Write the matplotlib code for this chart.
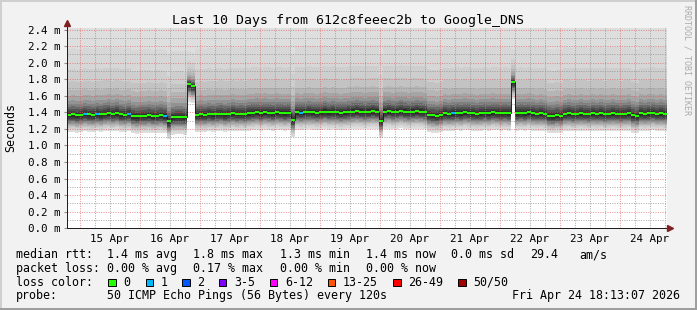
import numpy as np
import matplotlib
matplotlib.use("Agg")
import matplotlib.pyplot as plt
from matplotlib.patches import Rectangle
from matplotlib.lines import Line2D

W, H = 697, 310

# median rtt (ms), one value per 1.6 h, Apr 14 18:48 .. Apr 24 18:48
median = [
    1.37, 1.375, 1.365, 1.37,
    1.38, 1.375, 1.37, 1.38, 1.375,
    1.385, 1.39, 1.38, 1.39,
    1.375, 1.37, 1.38,
    1.355, 1.35, 1.36,
    1.36, 1.365, 1.355, 1.36, 1.365, 1.355,
    1.29,
    1.34, 1.345, 1.345, 1.34,
    1.74, 1.72,
    1.37, 1.375, 1.37, 1.38, 1.375,
    1.38, 1.385, 1.375, 1.38, 1.39, 1.38, 1.385, 1.38, 1.39,
    1.395, 1.40, 1.39, 1.40,
    1.395, 1.39, 1.40, 1.395, 1.39, 1.395,
    1.31,
    1.40, 1.395, 1.40, 1.405, 1.40, 1.395, 1.40, 1.41, 1.40, 1.405, 1.40, 1.395, 1.40, 1.405,
    1.41, 1.415, 1.41, 1.405, 1.41, 1.415, 1.41,
    1.30,
    1.41, 1.415, 1.405, 1.41, 1.42, 1.41, 1.405, 1.41, 1.415, 1.41, 1.405,
    1.37, 1.365, 1.36, 1.37,
    1.39, 1.385, 1.39, 1.395, 1.39, 1.40, 1.395, 1.39, 1.385, 1.39, 1.395, 1.39, 1.40, 1.395, 1.39, 1.395, 1.39,
    1.77,
    1.39, 1.395, 1.39, 1.40, 1.39, 1.385, 1.39, 1.385,
    1.36, 1.355, 1.365, 1.36,
    1.385, 1.39, 1.38, 1.385, 1.39, 1.385, 1.38, 1.39, 1.385, 1.39, 1.38, 1.385, 1.39, 1.385, 1.38, 1.385, 1.39,
    1.365, 1.36,
    1.39, 1.385, 1.39, 1.395, 1.385, 1.39, 1.385,
]
loss_one = [4, 7, 15, 24, 58, 96]   # columns with 1 of 50 pings lost
slow_cols = [30, 31, 111]           # columns where most pings were slow

# smoke: spread of the sorted pings around the median (ms), outer -> inner
smoke_low = [-0.21, -0.19, -0.17, -0.155, -0.14, -0.125,
             -0.11, -0.095, -0.08, -0.065, -0.05, -0.03]
smoke_high = [1.20, 0.80, 0.55, 0.40, 0.30, 0.23,
              0.17, 0.13, 0.10, 0.07, 0.045, 0.025]
smoke_gray = ['#dedede', '#d7d7d7', '#cecece', '#c3c3c3', '#b5b5b5', '#a5a5a5',
              '#939393', '#7f7f7f', '#696969', '#535353', '#3f3f3f', '#2c2c2c']

day_labels = ['15 Apr', '16 Apr', '17 Apr', '18 Apr', '19 Apr',
              '20 Apr', '21 Apr', '22 Apr', '23 Apr', '24 Apr']
yticks = [0.0, 0.2, 0.4, 0.6, 0.8, 1.0, 1.2, 1.4, 1.6, 1.8, 2.0, 2.2, 2.4]

loss_colors = ['#26ff00', '#00b8ff', '#0059ff', '#7e00ff',
               '#ff00ff', '#ff5500', '#ff0000', '#a10000']
loss_names = ['0', '1', '2', '3-5', '6-12', '13-25', '26-49', '50/50']

MONO = 'DejaVu Sans Mono'
t0, t1 = -5.2, 234.8          # hours relative to Apr 15 00:00
step = (t1 - t0) / len(median)
edges = t0 + step * np.arange(len(median) + 1)
med = np.array(median)
up_scale = np.array([0.5 if i in slow_cols else 1.0 for i in range(len(med))])

fig = plt.figure(figsize=(W / 100, H / 100), dpi=100, facecolor='#f2f2f2')
ax = fig.add_axes([67 / W, 1 - 228.3 / H, 600 / W, 200 / H])
ax.set_facecolor('white')
ax.set_xlim(t0, t1)
ax.set_ylim(0, 2.415)

# smoke (outermost band always reaches the top of the graph)
for k, (lo, hi, c) in enumerate(zip(smoke_low, smoke_high, smoke_gray)):
    y1 = med + lo
    y2 = med + hi * (1.0 if k == 0 else up_scale)
    ax.fill_between(edges, np.append(y1, y1[-1]), np.append(y2, y2[-1]),
                    step='post', color=c, lw=0, zorder=1)

# grid
grid_c = (0.56, 0.56, 0.56, 0.75)
mgrid_c = (0.87, 0.31, 0.31, 0.6)
for h in np.arange(0, t1, 6):
    major = h % 24 == 0
    ax.axvline(h, color=mgrid_c if major else grid_c, lw=0.72,
               dashes=(1, 1.4), zorder=2)
for k in range(1, 25):
    ax.axhline(k * 0.1, color=mgrid_c if k % 2 == 0 else grid_c, lw=0.72,
               dashes=(1, 1.4), zorder=2)

# median line
ax.stairs(med, edges, baseline=None, color='#202020', lw=0.7, zorder=3)
cols = ['#00b8ff' if i in loss_one else '#26ff00' for i in range(len(med))]
ax.hlines(med, edges[:-1], edges[1:], colors=cols, lw=1.5, zorder=4)

# axes
for s in ['top', 'right']:
    ax.spines[s].set_visible(False)
for s in ['left', 'bottom']:
    ax.spines[s].set_color('#1f1f1f')
    ax.spines[s].set_linewidth(0.72)
ax.set_xticks(np.arange(12, 24 * len(day_labels), 24), labels=day_labels)
ax.tick_params(axis='x', length=0, pad=4.2, labelsize=7.8)
ax.set_yticks(yticks, labels=['%.1f m' % v for v in yticks])
ax.tick_params(axis='y', length=2.2, pad=2.8, labelsize=7.8, color='#8f8f8f')
for lab in ax.get_xticklabels() + ax.get_yticklabels():
    lab.set_family(MONO)


def px(x, y):
    return x / W, 1 - y / H


# axis arrows
fig.add_artist(Line2D(*zip(px(67, 228.3), px(67, 22)), color='#1f1f1f', lw=0.72))
fig.add_artist(Line2D(*zip(px(67, 228.3), px(670, 228.3)), color='#1f1f1f', lw=0.72))
fig.add_artist(Line2D([67 / W], [1 - 22.5 / H], marker='^', ms=4.2,
                      color='#801f1f', lw=0))
fig.add_artist(Line2D([669.5 / W], [1 - 228.3 / H], marker='>', ms=4.2,
                      color='#801f1f', lw=0))

# frame shading
fig.add_artist(Rectangle(px(0, 2), 1, 2 / H, color='#cfcfcf', lw=0))
fig.add_artist(Rectangle(px(0, H), 2 / W, 1, color='#cfcfcf', lw=0))
fig.add_artist(Rectangle(px(0, H), 1, 2 / H, color='#9e9e9e', lw=0))
fig.add_artist(Rectangle(px(W - 2, H), 2 / W, 1, color='#9e9e9e', lw=0))

fig.text(*px(347.5, 24), 'Last 10 Days from 612c8feeec2b to Google_DNS',
         ha='center', va='baseline', fontsize=9.5, family=MONO)
fig.text(*px(11, 128), 'Seconds', rotation=90, ha='center', va='center',
         fontsize=8.4, family=MONO)
fig.text(*px(687.5, 5), 'RRDTOOL / TOBI OETIKER', rotation=270, ha='center',
         va='top', fontsize=6, family=MONO, color='#ababab')

legend = [
    (258.3, [('median rtt:', 16), ('1.4 ms avg', 107), ('1.8 ms max', 193.5),
             ('1.3 ms min', 279.5), ('1.4 ms now', 365.5), ('0.0 ms sd', 451),
             ('29.4', 530.5), ('am/s', 579.5)]),
    (271.7, [('packet loss:', 16), ('0.00 % avg', 107), ('0.17 % max', 193.5),
             ('0.00 % min', 279.5), ('0.00 % now', 365.5)]),
    (285.7, [('loss color:', 16)]),
    (299.3, [('probe:', 16), ('50 ICMP Echo Pings (56 Bytes) every 120s', 107)]),
]
for yb, items in legend:
    for txt, x in items:
        fig.text(*px(x, yb), txt, ha='left', va='baseline', fontsize=8.4,
                 family=MONO)
fig.text(*px(680, 299.3), 'Fri Apr 24 18:13:07 2026', ha='right',
         va='baseline', fontsize=8.4, family=MONO)

sw_x = [108.3, 145.7, 182.3, 219, 270, 328, 393.3, 458.3]
for x, c, name in zip(sw_x, loss_colors, loss_names):
    fig.add_artist(Rectangle(px(x, 286), 7.3 / W, 7.3 / H, facecolor=c,
                             edgecolor='black', lw=0.7))
    fig.text(*px(x + 15, 285.7), name, ha='left', va='baseline', fontsize=8.4,
             family=MONO)

fig.savefig('out.png', dpi=100, facecolor=fig.get_facecolor())
